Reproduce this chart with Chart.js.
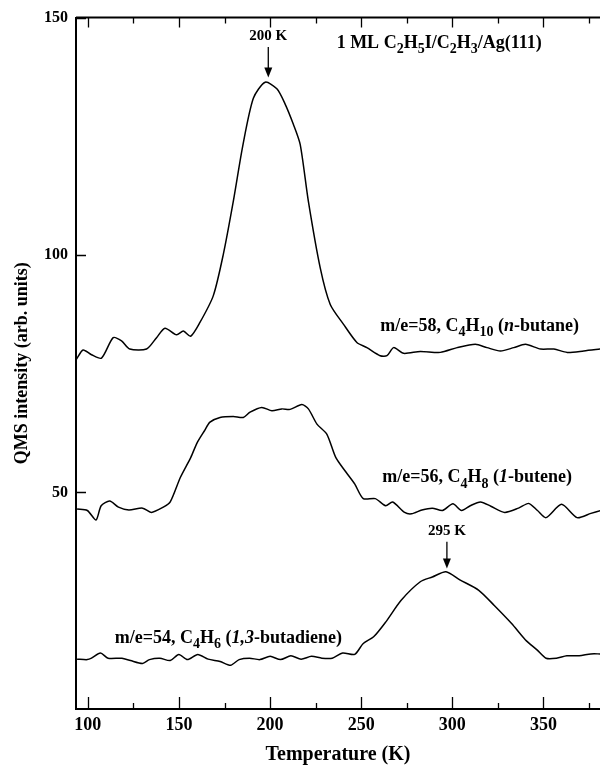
<!DOCTYPE html>
<html>
<head>
<meta charset="utf-8">
<script src="https://cdn.jsdelivr.net/npm/chart.js@4"></script>
<style>
  body { margin: 0; background: #fff; }
  #wrap { width: 600px; height: 765px; }
</style>
</head>
<body>
<div id="wrap"><canvas id="chart" width="600" height="765"></canvas></div>
<script>
// temperature (K) / intensity readings, one pair of arrays per trace
const butaneT = [93.8, 97.4, 102, 107.5, 113.9, 118.5, 123, 132.2, 137.7, 142.3, 148.7, 152.4, 156.4, 161.5, 168.8, 174.3, 179.8, 185, 190.8, 197.3, 203.7, 208, 212.8, 216.5, 221, 227.5, 233, 240.3, 247.6, 253.1, 260.4, 264.1, 267.8, 273.2, 282.4, 293.4, 302.6, 312.6, 319, 326.4, 333.7, 340.1, 348.4, 355.7, 363, 372.1, 381.3];
const butaneI = [78.1, 80.0, 79.0, 78.3, 82.6, 81.9, 80.2, 80.2, 82.6, 84.6, 83.2, 84.0, 82.9, 85.8, 91.4, 100.1, 111.3, 123, 133, 136.4, 135, 132, 127.5, 123.3, 111.3, 97.3, 89.6, 85.4, 81.6, 80.5, 78.8, 78.8, 80.5, 79.3, 79.7, 79.5, 80.5, 81.2, 80.5, 79.8, 80.5, 81.2, 80.2, 80.2, 79.5, 79.8, 80.2];

const buteneT = [94.1, 99.7, 104.5, 107.3, 112, 116.8, 122.5, 130, 134.8, 141.4, 145.2, 150.8, 156.5, 160, 164, 167, 172.5, 179.8, 185.3, 189, 195.4, 201, 206.4, 211, 217.4, 221, 225.7, 231.1, 236, 241.6, 246.4, 251.1, 257.7, 263.4, 267.2, 273.8, 277.6, 283.3, 289, 294.6, 300.3, 305, 309.8, 315.4, 321.1, 328.7, 336.3, 341.9, 346.7, 351.4, 359.9, 368.4, 376, 381.3];
const buteneI = [46.5, 46.2, 44.2, 47.2, 48.2, 46.9, 46.3, 46.7, 45.8, 46.9, 48.0, 53.2, 57.4, 60.5, 63.0, 64.8, 65.8, 66.0, 65.8, 66.9, 67.9, 67.2, 67.6, 67.5, 68.5, 67.6, 64.4, 62.3, 57.4, 54.3, 51.8, 48.7, 48.7, 47.2, 48.0, 45.8, 45.5, 46.3, 46.7, 46.2, 47.6, 46.2, 47.2, 48.0, 47.1, 45.8, 46.7, 47.7, 46.2, 44.7, 47.5, 44.7, 45.6, 46.2];

const butadieneT = [94.1, 99.7, 102, 106.9, 111.1, 118.7, 123.4, 130, 133.8, 139.5, 145.2, 149.9, 154.6, 160.3, 166, 172.6, 178.3, 183, 188.7, 194.4, 200, 205.7, 211.4, 217, 222.7, 228.4, 234.1, 239.8, 246.4, 251.1, 256.8, 263.4, 271.9, 282.4, 289, 296.5, 304.1, 314.5, 323, 332.5, 340, 346.6, 351.4, 357.1, 362.8, 369.6, 376, 381.3];
const butadieneI = [14.9, 14.8, 15.1, 16.2, 15.1, 15.1, 14.6, 14.0, 14.8, 15.1, 14.6, 15.9, 14.8, 15.9, 14.9, 14.4, 13.6, 14.8, 15.1, 14.8, 15.5, 14.8, 15.6, 14.9, 15.5, 15.1, 15.1, 16.2, 15.9, 18.2, 19.6, 22.7, 27.3, 31.2, 32.2, 33.3, 31.6, 29.4, 26.2, 22.4, 19.0, 16.8, 15.1, 15.1, 15.6, 15.6, 16.0, 16.0];

const xTicks = [100, 150, 200, 250, 300, 350];
const xMinorTicks = [125, 175, 225, 275, 325, 375];
const yTicks = [50, 100, 150];

// text notes: [segments, T, intensity]
const notes = [
  [[['1 ML C'], ['2', 'sub'], ['H'], ['5', 'sub'], ['I/C'], ['2', 'sub'], ['H'], ['3', 'sub'], ['/Ag(111)']], 236.5, 143.6],
  [[['m/e=58, C'], ['4', 'sub'], ['H'], ['10', 'sub'], [' ('], ['n', 'it'], ['-butane)']], 260.4, 84],
  [[['m/e=56, C'], ['4', 'sub'], ['H'], ['8', 'sub'], [' ('], ['1', 'it'], ['-butene)']], 261.5, 52.1],
  [[['m/e=54, C'], ['4', 'sub'], ['H'], ['6', 'sub'], [' ('], ['1,3', 'it'], ['-butadiene)']], 114.8, 18.4]
];
// peak markers: [label, T, label intensity, arrow top, arrow tip]
const peaks = [
  ['200 K', 199, 145.2, 143.8, 137.4],
  ['295 K', 297, 41.0, 39.6, 34.0]
];

const serif = '"Liberation Serif", "Times New Roman", serif';

function toPts(xs, ys) {
  return xs.map((t, i) => ({ x: t, y: ys[i] }));
}

function drawRich(ctx, parts, x, y, size) {
  let cx = x;
  parts.forEach(([txt, style]) => {
    const sub = style === 'sub';
    ctx.font = (style === 'it' ? 'italic ' : '') + 'bold ' + (sub ? Math.round(size * 0.76) : size) + 'px ' + serif;
    ctx.fillText(txt, cx, sub ? y + size * 0.28 : y);
    cx += ctx.measureText(txt).width;
  });
}

const inkPlugin = {
  id: 'ink',
  afterDatasetsDraw(chart) {
    const { ctx, chartArea: a, scales: { x, y } } = chart;
    ctx.save();
    ctx.strokeStyle = '#000';
    ctx.fillStyle = '#000';

    // top frame
    ctx.lineWidth = 2;
    ctx.beginPath();
    ctx.moveTo(a.left, a.top);
    ctx.lineTo(a.right, a.top);
    ctx.stroke();

    // inward ticks
    ctx.lineWidth = 1.3;
    ctx.beginPath();
    xTicks.forEach(t => {
      const px = Math.round(x.getPixelForValue(t)) + 0.5;
      ctx.moveTo(px, a.bottom); ctx.lineTo(px, a.bottom - 12);
      ctx.moveTo(px, a.top); ctx.lineTo(px, a.top + 10);
    });
    xMinorTicks.forEach(t => {
      const px = Math.round(x.getPixelForValue(t)) + 0.5;
      ctx.moveTo(px, a.bottom); ctx.lineTo(px, a.bottom - 6);
      ctx.moveTo(px, a.top); ctx.lineTo(px, a.top + 6);
    });
    yTicks.forEach(v => {
      const py = Math.round(y.getPixelForValue(v)) + 0.5;
      ctx.moveTo(a.left, py); ctx.lineTo(a.left + 10, py);
    });
    ctx.stroke();

    // labels on the traces
    ctx.textBaseline = 'alphabetic';
    ctx.textAlign = 'left';
    notes.forEach(([parts, t, v]) => {
      drawRich(ctx, parts, x.getPixelForValue(t), y.getPixelForValue(v), 18);
    });

    // peak arrows
    peaks.forEach(([label, t, vl, v0, v1]) => {
      const px = x.getPixelForValue(t);
      ctx.font = 'bold 15px ' + serif;
      ctx.textAlign = 'center';
      ctx.fillText(label, px, y.getPixelForValue(vl));
      const y0 = y.getPixelForValue(v0);
      const y1 = y.getPixelForValue(v1);
      ctx.lineWidth = 1.3;
      ctx.beginPath();
      ctx.moveTo(px, y0);
      ctx.lineTo(px, y1 - 8);
      ctx.stroke();
      ctx.beginPath();
      ctx.moveTo(px - 4, y1 - 10);
      ctx.lineTo(px + 4, y1 - 10);
      ctx.lineTo(px, y1);
      ctx.closePath();
      ctx.fill();
    });
    ctx.restore();
  }
};

const lineStyle = {
  borderColor: '#000',
  borderWidth: 1.5,
  pointRadius: 0,
  tension: 0.25,
  fill: false
};

new Chart(document.getElementById('chart').getContext('2d'), {
  type: 'line',
  data: {
    datasets: [
      Object.assign({ label: 'm/e=58', data: toPts(butaneT, butaneI) }, lineStyle),
      Object.assign({ label: 'm/e=56', data: toPts(buteneT, buteneI) }, lineStyle),
      Object.assign({ label: 'm/e=54', data: toPts(butadieneT, butadieneI) }, lineStyle)
    ]
  },
  options: {
    responsive: false,
    animation: false,
    devicePixelRatio: 1,
    layout: { padding: { top: 16, right: 0, left: 0, bottom: 0 } },
    plugins: { legend: { display: false }, tooltip: { enabled: false } },
    scales: {
      x: {
        type: 'linear',
        min: 93.5,
        max: 381,
        afterBuildTicks: s => { s.ticks = xTicks.map(v => ({ value: v })); },
        afterFit: s => { s.height = 56; },
        grid: { display: false, drawTicks: false },
        border: { display: true, color: '#000', width: 2 },
        ticks: { color: '#000', padding: 6, maxRotation: 0, font: { family: serif, size: 18, weight: 'bold' } },
        title: {
          display: true,
          text: 'Temperature (K)',
          color: '#000',
          padding: { top: 0, bottom: 0 },
          font: { family: serif, size: 20, weight: 'bold', lineHeight: 1 }
        }
      },
      y: {
        min: 4.4,
        max: 150,
        afterBuildTicks: s => { s.ticks = yTicks.map(v => ({ value: v })); },
        afterFit: s => { s.width = 76; },
        grid: { display: false, drawTicks: false },
        border: { display: true, color: '#000', width: 2 },
        ticks: { color: '#000', padding: 8, font: { family: serif, size: 16, weight: 'bold' } },
        title: {
          display: true,
          text: 'QMS intensity (arb. units)',
          color: '#000',
          padding: { top: 13, bottom: 0 },
          font: { family: serif, size: 18, weight: 'bold', lineHeight: 1 }
        }
      }
    }
  },
  plugins: [inkPlugin]
});
</script>
</body>
</html>
